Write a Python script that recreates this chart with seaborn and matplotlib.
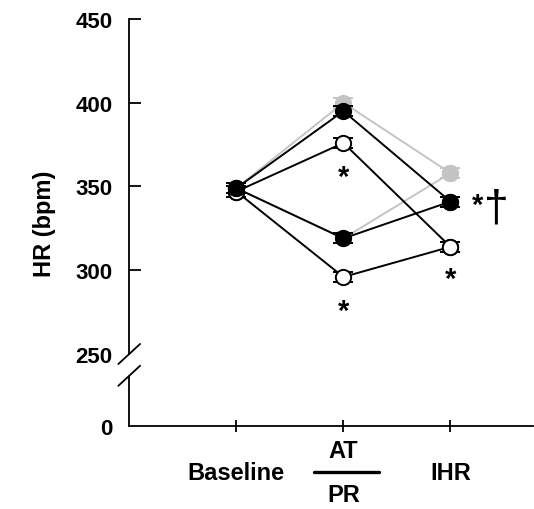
# Heart rate at baseline, after AT / PR, and at IHR for three groups.
import pandas as pd
import seaborn as sns
import matplotlib.pyplot as plt
import matplotlib.transforms as mtransforms

sns.set_style("ticks")
plt.rcParams['font.family'] = ['Liberation Sans', 'DejaVu Sans']
for key in ["text.color", "axes.labelcolor", "xtick.color", "ytick.color",
            "axes.edgecolor"]:
    plt.rcParams[key] = "black"

# x positions of the three stages
stage_pos = [0, 1, 2]
stage_labels = ["Baseline", "AT/PR", "IHR"]

# HR (bpm) along the AT path and the PR path of each group
gray_at = [349, 400, 358]
gray_pr = [349, 319, 358]
black_at = [349, 395, 341]
black_pr = [349, 319, 341]
open_at = [347, 376, 314]
open_pr = [347, 296, 314]

# error bars (bpm)
gray_sem = [3, 3, 3]
black_sem = [3, 3, 3]
open_sem = [3, 3, 3]

Y_ZERO = 207   # where "0" sits below the axis break
Y_BREAK = 250

rows = []
for group, at, pr, sem in [("gray", gray_at, gray_pr, gray_sem),
                           ("open", open_at, open_pr, open_sem),
                           ("black", black_at, black_pr, black_sem)]:
    for path, vals in [("AT", at), ("PR", pr)]:
        for x, v, e in zip(stage_pos, vals, sem):
            rows.append({"group": group, "path": group + path, "x": x, "hr": v, "sem": e})
df = pd.DataFrame(rows)

styles = {
    "gray": dict(line="#c4c4c4", mfc="#c4c4c4", mec="#c4c4c4", z=2),
    "open": dict(line="black", mfc="white", mec="black", z=4),
    "black": dict(line="black", mfc="black", mec="black", z=6),
}

fig = plt.figure(figsize=(5.34, 5.10), dpi=100)
ax = fig.add_axes([0.242, 0.1627, 0.756, 0.7981])

for group in ["gray", "open", "black"]:
    st = styles[group]
    sub = df[df["group"] == group]
    sns.lineplot(data=sub, x="x", y="hr", units="path", estimator=None,
                 color=st["line"], lw=1.4, sort=False, legend=False, ax=ax,
                 zorder=st["z"])
    ax.errorbar(sub["x"], sub["hr"], yerr=sub["sem"], fmt="o", ms=11,
                mfc=st["mfc"], mec=st["mec"], mew=1.4, ecolor=st["mec"],
                elinewidth=1.3, capsize=7.5, capthick=1.3, zorder=st["z"] + 1)

ax.set_xlim(-1.0, 2.77)
ax.set_ylim(Y_ZERO, 450)
ax.set_yticks([Y_ZERO, 250, 300, 350, 400, 450])
ax.set_yticklabels(["0", "250", "300", "350", "400", "450"])
ax.set_xticks(stage_pos)
ax.set_xticklabels([])
ax.set_xlabel("")
ax.set_ylabel("HR (bpm)", fontsize=17, fontweight="bold", labelpad=14)
ax.tick_params(axis="y", direction="in", length=8.5, width=1.3, pad=12,
               labelsize=16)
ax.tick_params(axis="x", direction="inout", length=9, width=1.3)
for lab in ax.get_yticklabels():
    lab.set_fontweight("bold")
ax.yaxis.get_major_ticks()[1].tick1line.set_visible(False)
ax.yaxis.get_major_ticks()[0].tick1line.set_visible(False)

sns.despine(ax=ax)
for sp in ["left", "bottom"]:
    ax.spines[sp].set_linewidth(1.3)
ax.spines["left"].set_bounds(Y_BREAK, 450)

# lower piece of the broken y axis and the break marks
tr = mtransforms.blended_transform_factory(ax.transAxes, ax.transData)
ax.plot([0, 0], [Y_ZERO, 237], color="black", lw=1.3, transform=tr,
        clip_on=False)
for yc in [Y_BREAK, 237]:
    ax.plot([-0.027, 0.027], [yc - 6, yc + 6], color="black", lw=1.3,
            transform=tr, clip_on=False)

# x labels
trx = mtransforms.blended_transform_factory(ax.transData, ax.transAxes)
lab_kw = dict(fontsize=17, fontweight="bold", ha="center", va="center",
              transform=trx)
ax.text(0, -0.113, "Baseline", **lab_kw)
ax.text(2, -0.113, "IHR", **lab_kw)
ax.text(1, -0.06, "AT", **lab_kw)
ax.text(1, -0.168, "PR", **lab_kw)
ax.plot([0.73, 1.33], [-0.113, -0.113], color="black", lw=2.4,
        transform=trx, clip_on=False)

# significance marks
star_kw = dict(fontsize=21, fontweight="bold", ha="center", va="center")
ax.text(1, 356, "*", **star_kw)
ax.text(1, 276, "*", **star_kw)
ax.text(2, 295, "*", **star_kw)
ax.text(2.25, 339, "*", **star_kw)
ax.text(2.43, 337, "†", fontsize=32, ha="center", va="center")

fig.savefig("out.png", dpi=100)
